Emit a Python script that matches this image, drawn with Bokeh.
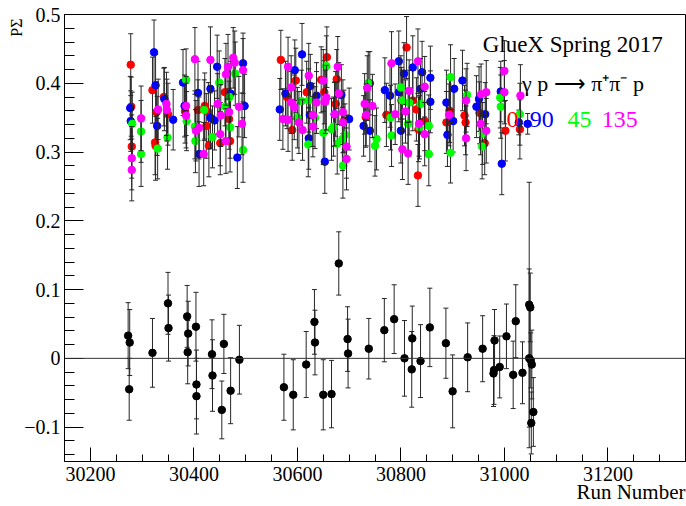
from bokeh.plotting import figure
from bokeh.models import (Range1d, FixedTicker, CustomJSTickFormatter, Label, Span,
                          ColumnDataSource, LinearAxis, Title)
from bokeh.embed import file_html
from bokeh.resources import INLINE

FONT = "Liberation Serif"
TICK_FONT = "'Liberation Serif', serif"

# ---------------- data ----------------
X_TICKS = [30200, 30400, 30600, 30800, 31000, 31200]
Y_TICKS = [-0.1, 0.0, 0.1, 0.2, 0.3, 0.4, 0.5]

# PSigma, 0 deg (red)
red_run = [30278, 30279, 30280, 30320, 30328, 30325, 30326, 30342, 30350, 30383,
           30408, 30421, 30428, 30424, 30429, 30451, 30460, 30468, 30470, 30568,
           30597, 30580, 30590, 30618, 30646, 30657, 30652, 30676, 30674, 30690,
           30732, 30772, 30811, 30801, 30823, 30830, 30833, 30834, 30846, 30888,
           30894, 30923, 30925, 30952, 30962, 31002, 31030]
red_val = [0.427, 0.366, 0.308, 0.390, 0.358, 0.314, 0.309, 0.380, 0.355, 0.359,
           0.361, 0.367, 0.358, 0.338, 0.309, 0.313, 0.387, 0.348, 0.316, 0.434,
           0.404, 0.380, 0.332, 0.387, 0.405, 0.438, 0.387, 0.406, 0.370, 0.345,
           0.351, 0.354, 0.452, 0.375, 0.375, 0.362, 0.266, 0.333, 0.345, 0.343,
           0.360, 0.353, 0.343, 0.357, 0.313, 0.331, 0.333]
red_err = [0.045, 0.043, 0.046, 0.048, 0.044, 0.047, 0.050, 0.042, 0.045, 0.046,
           0.044, 0.048, 0.043, 0.047, 0.045, 0.046, 0.049, 0.044, 0.045, 0.043,
           0.047, 0.046, 0.044, 0.045, 0.048, 0.044, 0.046, 0.043, 0.047, 0.045,
           0.044, 0.046, 0.045, 0.048, 0.044, 0.046, 0.045, 0.047, 0.043, 0.045,
           0.046, 0.044, 0.047, 0.045, 0.046, 0.044, 0.043]

# PSigma, 90 deg (blue)
blue_run = [30277, 30278, 30323, 30326, 30329, 30343, 30360, 30379, 30382, 30408,
            30410, 30432, 30432, 30445, 30440, 30471, 30484, 30495, 30498, 30566,
            30577, 30595, 30609, 30625, 30624, 30637, 30622, 30653, 30685, 30672,
            30700, 30740, 30728, 30740, 30769, 30779, 30796, 30806, 30823, 30796,
            30800, 30841, 30838, 30857, 30857, 30888, 30903, 30901, 30890, 30919,
            30946, 30951, 30963, 30993, 30995, 31028, 31045]
blue_val = [0.364, 0.345, 0.445, 0.397, 0.338, 0.377, 0.347, 0.401, 0.367, 0.386,
            0.297, 0.392, 0.350, 0.424, 0.346, 0.385, 0.292, 0.429, 0.367, 0.362,
            0.385, 0.419, 0.442, 0.396, 0.354, 0.382, 0.320, 0.286, 0.383, 0.355,
            0.348, 0.400, 0.338, 0.331, 0.390, 0.382, 0.432, 0.414, 0.423, 0.387,
            0.331, 0.416, 0.392, 0.408, 0.373, 0.372, 0.392, 0.345, 0.325, 0.404,
            0.366, 0.377, 0.355, 0.388, 0.283, 0.343, 0.341]
blue_err = [0.046, 0.044, 0.047, 0.045, 0.043, 0.046, 0.044, 0.048, 0.045, 0.046,
            0.047, 0.044, 0.045, 0.046, 0.043, 0.047, 0.045, 0.044, 0.046, 0.045,
            0.047, 0.044, 0.045, 0.046, 0.044, 0.048, 0.045, 0.046, 0.044, 0.047,
            0.045, 0.046, 0.044, 0.045, 0.047, 0.046, 0.044, 0.045, 0.046, 0.043,
            0.047, 0.045, 0.044, 0.046, 0.045, 0.047, 0.044, 0.045, 0.046, 0.044,
            0.045, 0.047, 0.046, 0.044, 0.045, 0.018, 0.015]

# PSigma, 45 deg (green)
green_run = [30281, 30298, 30298, 30330, 30349, 30385, 30386, 30402, 30403, 30420,
             30436, 30449, 30461, 30469, 30470, 30480, 30495, 30608, 30600, 30622,
             30634, 30621, 30656, 30650, 30666, 30670, 30687, 30692, 30688, 30677,
             30737, 30753, 30750, 30780, 30782, 30800, 30803, 30814, 30816, 30836,
             30838, 30854, 30854, 30896, 30896, 30928, 30958, 30957, 30992, 30993,
             31030]
green_val = [0.341, 0.330, 0.297, 0.305, 0.321, 0.405, 0.345, 0.337, 0.316, 0.361,
             0.322, 0.401, 0.366, 0.380, 0.336, 0.414, 0.303, 0.374, 0.350, 0.375,
             0.350, 0.311, 0.425, 0.328, 0.333, 0.337, 0.319, 0.325, 0.280, 0.312,
             0.400, 0.319, 0.309, 0.350, 0.324, 0.394, 0.375, 0.341, 0.372, 0.336,
             0.370, 0.338, 0.297, 0.409, 0.299, 0.383, 0.327, 0.308, 0.379, 0.366,
             0.355]
green_err = [0.046, 0.045, 0.047, 0.044, 0.046, 0.045, 0.043, 0.047, 0.046, 0.044,
             0.045, 0.046, 0.048, 0.044, 0.045, 0.046, 0.047, 0.045, 0.044, 0.046,
             0.045, 0.047, 0.044, 0.046, 0.045, 0.043, 0.046, 0.045, 0.047, 0.044,
             0.046, 0.045, 0.044, 0.047, 0.045, 0.046, 0.044, 0.045, 0.047, 0.046,
             0.044, 0.045, 0.046, 0.047, 0.044, 0.046, 0.045, 0.047, 0.044, 0.046,
             0.045]

# PSigma, 135 deg (magenta)
mag_run = [30280, 30280, 30298, 30331, 30347, 30348, 30385, 30385, 30402, 30404,
           30410, 30419, 30432, 30446, 30452, 30451, 30466, 30462, 30476, 30479,
           30468, 30462, 30487, 30495, 30493, 30582, 30588, 30588, 30594, 30572,
           30582, 30603, 30610, 30622, 30637, 30630, 30630, 30650, 30656, 30654,
           30678, 30680, 30672, 30688, 30688, 30695, 30695, 30735, 30730, 30745,
           30733, 30782, 30789, 30833, 30816, 30809, 30803, 30814, 30835, 30846,
           30846, 30893, 30926, 30926, 30955, 30965, 30954, 30965, 31000, 31000,
           31031]
mag_val = [0.291, 0.274, 0.349, 0.362, 0.370, 0.361, 0.367, 0.353, 0.435, 0.331,
           0.335, 0.297, 0.434, 0.370, 0.353, 0.326, 0.424, 0.413, 0.437, 0.430,
           0.358, 0.316, 0.366, 0.419, 0.341, 0.424, 0.394, 0.372, 0.365, 0.348,
           0.347, 0.343, 0.332, 0.411, 0.372, 0.354, 0.337, 0.404, 0.379, 0.373,
           0.424, 0.385, 0.355, 0.358, 0.343, 0.308, 0.290, 0.393, 0.370, 0.367,
           0.354, 0.429, 0.355, 0.432, 0.389, 0.359, 0.304, 0.298, 0.341, 0.326,
           0.395, 0.354, 0.375, 0.320, 0.384, 0.387, 0.341, 0.331, 0.418, 0.387,
           0.382]
mag_err = [0.046, 0.045, 0.047, 0.044, 0.046, 0.045, 0.043, 0.047, 0.046, 0.044,
           0.045, 0.046, 0.048, 0.044, 0.045, 0.046, 0.047, 0.045, 0.044, 0.046,
           0.045, 0.047, 0.044, 0.046, 0.045, 0.043, 0.046, 0.045, 0.047, 0.044,
           0.046, 0.045, 0.044, 0.047, 0.045, 0.046, 0.044, 0.045, 0.047, 0.046,
           0.044, 0.045, 0.046, 0.047, 0.044, 0.046, 0.045, 0.047, 0.044, 0.046,
           0.045, 0.046, 0.044, 0.047, 0.045, 0.046, 0.044, 0.045, 0.047, 0.046,
           0.044, 0.045, 0.046, 0.047, 0.044, 0.046, 0.045, 0.047, 0.044, 0.046,
           0.045]

# combined (black)
blk_run = [30273, 30276, 30275, 30320, 30350, 30351, 30387, 30389, 30388, 30404,
           30405, 30405, 30435, 30436, 30458, 30454, 30471, 30488, 30574, 30592,
           30617, 30633, 30634, 30650, 30666, 30680, 30697, 30698, 30738, 30768,
           30787, 30807, 30822, 30821, 30838, 30856, 30887, 30900, 30929, 30958,
           30981, 30980, 30979, 30991, 31004, 31017, 31022, 31035, 31048, 31050,
           31048, 31051, 31053, 31052, 31056]
blk_val = [0.033, 0.023, -0.045, 0.008, 0.080, 0.044, 0.061, 0.036, 0.009, 0.046,
           -0.038, -0.055, 0.006, -0.025, 0.021, -0.075, -0.047, -0.002, -0.042, -0.053,
           -0.009, 0.053, 0.023, -0.053, -0.052, 0.138, 0.028, 0.007, 0.014, 0.041,
           0.057, 0.000, 0.029, -0.016, -0.004, 0.045, 0.022, -0.048, 0.0015, 0.014,
           0.026, -0.017, -0.022, -0.0125, 0.032, -0.024, 0.054, -0.021, 0.078, 0.074,
           0.000, -0.003, -0.009, -0.094, -0.078]
blk_err = [0.048, 0.048, 0.045, 0.050, 0.045, 0.048, 0.045, 0.047, 0.046, 0.050,
           0.050, 0.055, 0.050, 0.052, 0.043, 0.042, 0.048, 0.050, 0.048, 0.051,
           0.048, 0.047, 0.047, 0.051, 0.049, 0.046, 0.047, 0.050, 0.044, 0.046,
           0.050, 0.055, 0.047, 0.055, 0.053, 0.057, 0.051, 0.053, 0.050, 0.048,
           0.045, 0.050, 0.048, 0.045, 0.047, 0.049, 0.053, 0.045, 0.178, 0.050,
           0.130, 0.040, 0.050, 0.045, 0.050]

# ---------------- figure ----------------
p = figure(width=686, height=506, output_backend="svg", toolbar_location=None,
           x_axis_type=None, y_axis_type=None,
           x_range=Range1d(30150, 31350), y_range=Range1d(-0.15, 0.5),
           min_border_left=64, min_border_right=1, min_border_top=14, min_border_bottom=45,
           background_fill_color="white", border_fill_color="white")
p.outline_line_color = "black"
p.outline_line_width = 1

common = dict(axis_line_color="black", major_tick_line_color="black", minor_tick_line_color="black",
              major_tick_out=0, minor_tick_out=0,
              major_label_text_font=TICK_FONT, major_label_text_font_style="normal",
              major_label_text_font_size="20px", major_label_text_color="black")

xaxis = LinearAxis(ticker=FixedTicker(ticks=X_TICKS, minor_ticks=[30150 + 50 * i for i in range(25)]),
                   major_tick_in=14, minor_tick_in=7, major_label_standoff=5, **common)
yaxis = LinearAxis(ticker=FixedTicker(ticks=Y_TICKS, minor_ticks=[round(-0.14 + 0.02 * i, 3) for i in range(33)]),
                   formatter=CustomJSTickFormatter(
                       code="if (Math.abs(tick) < 1e-9) return '0'; return tick.toFixed(1).replace('-', '\\u2212');"),
                   major_tick_in=19, minor_tick_in=10, major_label_standoff=4, **common)
p.add_layout(xaxis, "below")
p.add_layout(yaxis, "left")

# axis titles, right-aligned / top-aligned like the original
p.add_layout(Title(text="Run Number", align="right", vertical_align="top", standoff=-7,
                   text_font=FONT, text_font_size="21px", text_font_style="normal",
                   text_color="black"), "below")
p.add_layout(Title(text="PΣ", align="right", vertical_align="bottom", standoff=-6, offset=4,
                   text_font=FONT, text_font_size="16px", text_font_style="normal",
                   text_color="black"), "left")

p.add_layout(Span(location=0, dimension="width", line_color="#333333", line_width=1))

ERR_COLOR = "#262626"


def draw(runs, vals, errs, color):
    lo = [v - e for v, e in zip(vals, errs)]
    hi = [v + e for v, e in zip(vals, errs)]
    n = min(len(runs), len(vals), len(errs))
    src = ColumnDataSource(dict(x=runs[:n], y=vals[:n], lo=lo[:n], hi=hi[:n]))
    p.segment(x0="x", y0="lo", x1="x", y1="hi", source=src, line_color=ERR_COLOR, line_width=1)
    p.scatter(x="x", y="lo", marker="dash", size=5, line_color=ERR_COLOR, source=src)
    p.scatter(x="x", y="hi", marker="dash", size=5, line_color=ERR_COLOR, source=src)
    p.scatter(x="x", y="y", marker="circle", size=7.5, fill_color=color, line_color=color, source=src)


draw(blk_run, blk_val, blk_err, "black")
draw(red_run, red_val, red_err, "#ff0000")
draw(blue_run, blue_val, blue_err, "#0000ff")
draw(green_run, green_val, green_err, "#00ff00")
draw(mag_run, mag_val, mag_err, "#ff00ff")

# ---------------- texts ----------------
def lab(x, y, text, size, color="black", **kw):
    p.add_layout(Label(x=x, y=y, text=text, text_font=FONT, text_font_size=size,
                       text_color=color, text_baseline="alphabetic", **kw))

lab(30958, 0.457, "GlueX Spring 2017", "23px")
lab(31034, 0.399, "γ p ⟶ π⁺π⁻  p", "22px")
lab(31004, 0.347, "0", "24px", "#ff0000")
lab(31049, 0.347, "90", "24px", "#0000ff")
lab(31122, 0.347, "45", "24px", "#00ff00")
lab(31188, 0.347, "135", "24px", "#ff00ff")

open("out.html", "w").write(file_html(p, INLINE))
